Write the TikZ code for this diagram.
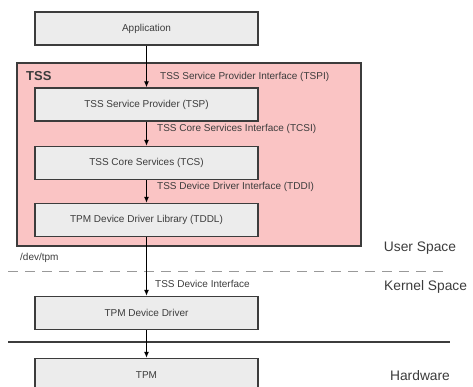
\documentclass[tikz,border=0pt]{standalone}
\usepackage{fontspec}
\setmainfont{Liberation Sans}
\usepackage{xcolor}
\usetikzlibrary{arrows.meta,positioning}
\definecolor{tsspink}{RGB}{250,196,196}
\definecolor{boxgray}{RGB}{236,236,236}
\definecolor{linegray}{RGB}{60,60,60}
\tikzset{
  layerbox/.style={draw=linegray,line width=1.4pt,fill=boxgray,minimum width=223pt,minimum height=33pt,inner sep=0pt,font=\fontsize{10}{12}\selectfont,text=linegray},
  iflabel/.style={anchor=west,font=\fontsize{10}{12}\selectfont,text=linegray,inner sep=0pt},
  spacelabel/.style={font=\fontsize{13.8}{16}\selectfont,text=linegray,inner sep=0pt},
  callarrow/.style={-{Latex[length=6pt,width=5pt]},line width=1pt,draw=black}
}
\begin{document}
\begin{tikzpicture}[x=1pt,y=-1pt]
                    \clip (0,0) rectangle (473,387);
                    \useasboundingbox (0,0) rectangle (473,387);
                    
                    % Drawing region TSS
                    \draw [draw=linegray,line width=1.2pt,fill=tsspink] (17,63) rectangle (361,246);%
                    \node [anchor=west,inner sep=0pt,text=linegray,font=\fontsize{13}{15}\bfseries] (tss) at (26,76) {TSS};%
                    
                    % Drawing boxes
                    \node [layerbox] (app) at (146.5,28.5) {Application};%
                    \node [layerbox] (tsp) at (146.5,104.5) {TSS Service Provider (TSP)};%
                    \node [layerbox] (tcs) at (146.5,163) {TSS Core Services (TCS)};%
                    \node [layerbox] (tddl) at (146.5,220) {TPM Device Driver Library (TDDL)};%
                    \node [layerbox] (tpmdd) at (146.5,313) {TPM Device Driver};%
                    \node [layerbox] (tpm) at (146.5,375) {TPM};%
                    
                    % Marking interfaces
                    \node [iflabel] (tspi) at (160,77) {TSS Service Provider Interface (TSPI)};%
                    \node [iflabel] (tcsi) at (157,129) {TSS Core Services Interface (TCSI)};%
                    \node [iflabel] (tddi) at (157,187) {TSS Device Driver Interface (TDDI)};%
                    \node [iflabel] (tdi) at (155,284) {TSS Device Interface};%
                    \node [iflabel] (devtpm) at (20,258) {/dev/tpm};%
                    
                    % Drawing borders between spaces
                    \draw [draw=black!40,line width=1pt,dash pattern=on 10pt off 7pt] (8,271) -- (450,271);%
                    \draw [draw=linegray,line width=1.4pt] (8,342) -- (450,342);%
                    
                    % Marking spaces
                    \node [spacelabel] (user) at (420,248) {User Space};%
                    \node [spacelabel,anchor=west] (kernel) at (384,287) {Kernel Space};%
                    \node [spacelabel] (hw) at (420,376) {Hardware};%
                    
                    % Drawing calls
                    \draw [callarrow] (app) -- (tsp);%
                    \draw [callarrow] (tsp) -- (tcs);%
                    \draw [callarrow] (tcs) -- (tddl);%
                    \draw [callarrow] (tddl) -- (tpmdd);%
                    \draw [callarrow] (tpmdd) -- (tpm);%
\end{tikzpicture}
\end{document}
